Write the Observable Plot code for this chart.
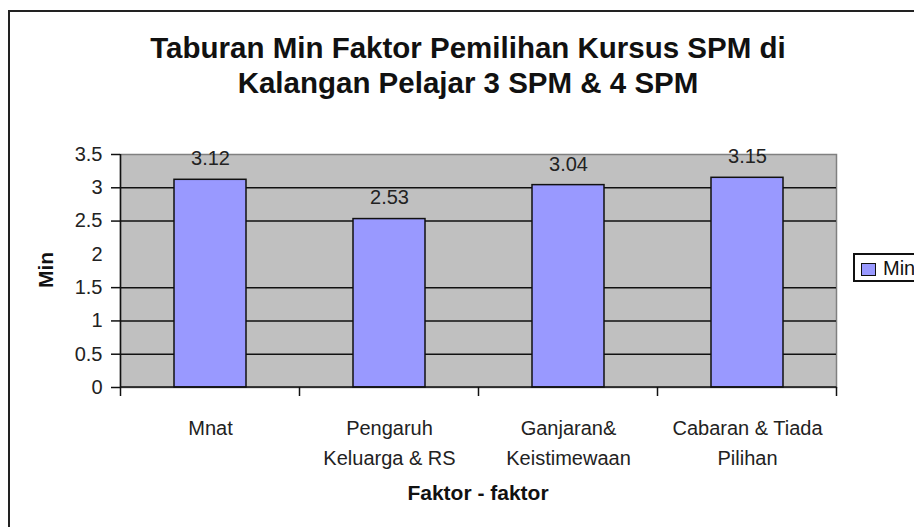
<!DOCTYPE html>
<html>
<head>
<meta charset="utf-8">
<script src="https://cdn.jsdelivr.net/npm/d3@7"></script>
<script src="https://cdn.jsdelivr.net/npm/@observablehq/plot@0.6"></script>
<style>
  html, body { margin: 0; padding: 0; background: #fff; overflow: hidden; }
  #wrap { position: relative; width: 914px; height: 527px; overflow: hidden; font-family: "Liberation Sans", Arial, sans-serif; color: #111; }
  #outer { position: absolute; left: 8px; top: 10px; width: 1000px; height: 1000px; border: 2px solid #222; box-sizing: border-box; pointer-events: none; }
  #title { position: absolute; left: 0; width: 936px; top: 30px; text-align: center; font-weight: bold; font-size: 29.5px; line-height: 35px; }
  #ylab { position: absolute; left: 46px; top: 270px; transform: translate(-50%, -50%) rotate(-90deg); font-weight: bold; font-size: 21px; white-space: nowrap; }
  #xlab { position: absolute; left: 478px; top: 493px; transform: translate(-50%, -50%); font-weight: bold; font-size: 21px; white-space: nowrap; }
  #legend { position: absolute; left: 853px; top: 253px; width: 120px; height: 29px; border: 2px solid #111; box-sizing: border-box; background: #fff; }
  #legend .sw { position: absolute; left: 6px; top: 8px; width: 15px; height: 13px; background: #9999ff; border: 1.5px solid #111; box-sizing: border-box; }
  #legend .lt { position: absolute; left: 28px; top: 1px; font-size: 20px; line-height: 24px; }
  svg { position: absolute; left: 0; top: 0; }
</style>
</head>
<body>
<div id="wrap">
  <div id="chart"></div>
  <div id="outer"></div>
  <div id="title"></div>
  <div id="ylab"></div>
  <div id="xlab"></div>
  <div id="legend"><div class="sw"></div><div class="lt"></div></div>
</div>
<script>
const titleLines = ["Taburan Min Faktor Pemilihan Kursus SPM di", "Kalangan Pelajar 3 SPM & 4 SPM"];
const yLabel = "Min";
const xLabel = "Faktor - faktor";
const seriesName = "Min";
const categories = ["Mnat", "Pengaruh Keluarga & RS", "Ganjaran& Keistimewaan", "Cabaran & Tiada Pilihan"];
const tickLabels = ["Mnat", "Pengaruh\nKeluarga & RS", "Ganjaran&\nKeistimewaan", "Cabaran & Tiada\nPilihan"];
const values = [3.12, 2.53, 3.04, 3.15];
const valueLabels = ["3.12", "2.53", "3.04", "3.15"];
const yTicks = [0, 0.5, 1, 1.5, 2, 2.5, 3, 3.5];
const yTickMarks = [0, 0.5, 1, 1.5, 2.5, 3, 3.5];
const gridValues = [0.5, 1, 1.5, 2.5, 3];
const yDomain = [0, 3.5];

document.getElementById("title").innerHTML = titleLines.join("<br>");
document.getElementById("ylab").textContent = yLabel;
document.getElementById("xlab").textContent = xLabel;
document.querySelector("#legend .lt").textContent = seriesName;

const data = categories.map((c, i) => ({cat: c, value: values[i], label: valueLabels[i], tick: tickLabels[i]}));
const tickMap = new Map(categories.map((c, i) => [c, tickLabels[i]]));

function bandDecor(index, scales, vals, dims) {
  const x = scales.x, y = scales.y;
  const xs = categories.map(c => x(c));
  const step = typeof x.step === "function" ? x.step() : xs[1] - xs[0];
  const bw = typeof x.bandwidth === "function" ? x.bandwidth() : 0;
  const half = (step - bw) / 2;
  const bounds = xs.map(v => v - half).concat([xs[xs.length - 1] + bw + half]);
  const y0 = y(0), yTop = y(yDomain[1]);
  const g = d3.create("svg:g").attr("stroke", "#111").attr("stroke-width", 1.5);
  bounds.forEach(b => g.append("line").attr("x1", b).attr("x2", b).attr("y1", y0).attr("y2", y0 + 9));
  g.append("line").attr("x1", bounds[0]).attr("x2", bounds[bounds.length - 1]).attr("y1", y0).attr("y2", y0);
  g.append("line").attr("x1", bounds[0]).attr("x2", bounds[0]).attr("y1", yTop).attr("y2", y0);
  return g.node();
}

const chart = Plot.plot({
  width: 914,
  height: 527,
  marginLeft: 120,
  marginRight: 78,
  marginTop: 154,
  marginBottom: 140,
  style: {fontFamily: "'Liberation Sans', Arial, sans-serif", fontSize: "20px", color: "#111", background: "transparent", overflow: "visible"},
  x: {domain: categories, paddingInner: 0.6, paddingOuter: 0.3, align: 0.5, label: null},
  y: {domain: yDomain, label: null},
  marks: [
    Plot.frame({fill: "#c0c0c0", stroke: "#808080", strokeWidth: 1.5}),
    Plot.ruleY(gridValues, {stroke: "#111", strokeWidth: 1.5}),
    Plot.barY(data, {x: "cat", y: "value", fill: "#9999ff", stroke: "#111", strokeWidth: 1.5}),
    Plot.text(data, {x: "cat", y: "value", text: "label", dy: -21, fontSize: 20, fill: "#222"}),
    Plot.axisY(yTickMarks, {tickSize: 9, tickFormat: () => "", strokeWidth: 1.5, stroke: "#111", label: null}),
    Plot.axisY(yTicks, {tickSize: 0, tickPadding: 18, tickFormat: d => String(d), fontSize: 20, fill: "#222", label: null}),
    Plot.axisX({tickSize: 0, tickPadding: 26, tickFormat: d => tickMap.get(d), lineHeight: 1.5, fontSize: 20, fill: "#222", label: null}),
    bandDecor
  ]
});
document.getElementById("chart").appendChild(chart);
</script>
</body>
</html>
